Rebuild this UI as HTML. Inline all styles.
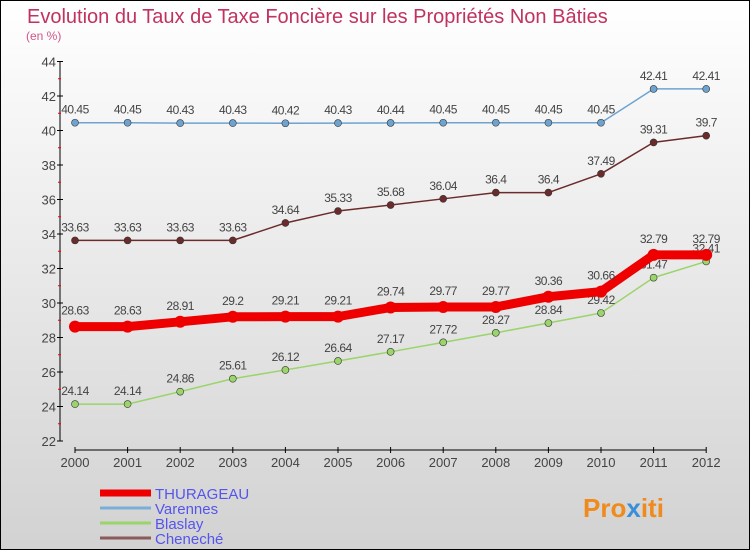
<!DOCTYPE html>
<html><head><meta charset="utf-8"><style>
body{margin:0;width:750px;height:550px;overflow:hidden;font-family:"Liberation Sans",sans-serif}
#wrap{position:absolute;left:0;top:0;width:748px;height:548px;border:1px solid #000;background:linear-gradient(#ffffff,#d2d2d2)}
</style></head><body>
<div id="wrap">
<svg id="chart" width="750" height="550" style="position:absolute;left:-1px;top:-1px">
<text x="27" y="23" font-size="20" fill="#c0335f">Evolution du Taux de Taxe Foncière sur les Propriétés Non Bâties</text>
<text x="26" y="40" font-size="12" fill="#d0558a">(en %)</text>
<g id="axes"></g><g id="series"></g><g id="legend"></g>
<text x="583" y="517" font-size="26" font-weight="bold" fill="#f08a1c">Pro<tspan fill="#3a8fd8">x</tspan>iti</text>
</svg></div>
<script>
const years=[2000,2001,2002,2003,2004,2005,2006,2007,2008,2009,2010,2011,2012];
const yTicks=[22,24,26,28,30,32,34,36,38,40,42,44];
const thurageau=[28.63,28.63,28.91,29.2,29.21,29.21,29.74,29.77,29.77,30.36,30.66,32.79,32.79];
const varennes=[40.45,40.45,40.43,40.43,40.42,40.43,40.44,40.45,40.45,40.45,40.45,42.41,42.41];
const blaslay=[24.14,24.14,24.86,25.61,26.12,26.64,27.17,27.72,28.27,28.84,29.42,31.47,32.41];
const cheneche=[33.63,33.63,33.63,33.63,34.64,35.33,35.68,36.04,36.4,36.4,37.49,39.31,39.7];
const seriesNames=["THURAGEAU","Varennes","Blaslay","Cheneché"];
const NS="http://www.w3.org/2000/svg";
const X=i=>75+i*52.6, Y=v=>441-(v-22)*17.25;
function mk(t,a,p){const e=document.createElementNS(NS,t);for(const k in a)e.setAttribute(k,a[k]);p.appendChild(e);return e;}
const ax=document.getElementById('axes');
let l=mk('line',{x1:60,y1:Y(44),x2:60,y2:Y(22),stroke:'#000'},ax);


l=mk('line',{x1:75,y1:450,x2:X(12),y2:450,stroke:'#000'},ax);


yTicks.forEach(v=>{mk('line',{x1:57,y1:Y(v),x2:63,y2:Y(v),stroke:'#000'},ax);
 if(v<44)mk('line',{x1:58,y1:Y(v+1),x2:61,y2:Y(v+1),stroke:'#e00'},ax);
 const t=mk('text',{x:56,y:Y(v)+5,'font-size':13,fill:'#444','text-anchor':'end'},ax);t.textContent=v;
 
 });
years.forEach((y,i)=>{mk('line',{x1:X(i),y1:447,x2:X(i),y2:453,stroke:'#000'},ax);
 const t=mk('text',{x:X(i),y:467,'font-size':13,fill:'#444','text-anchor':'middle'},ax);t.textContent=y;
 
 });
const sg=document.getElementById('series');
function draw(data,color,w,dot,name,dy){
 const g=mk('g',{},sg);
 
 
 mk('polyline',{points:data.map((v,i)=>X(i)+','+Y(v)).join(' '),fill:'none',stroke:color,'stroke-width':w,'stroke-linejoin':'round'},g);
 data.forEach((v,i)=>{const c=mk('circle',{cx:X(i),cy:Y(v),r:dot,fill:color,stroke:'#333','stroke-width':w>5?0:0.6},g);
  
  
  const t=mk('text',{x:X(i),y:Y(v)+dy,'font-size':12,fill:'#444','text-anchor':'middle','letter-spacing':'-0.5'},g);t.textContent=v;});
}
draw(varennes,'#6ea3d0',1.5,3.5,'varennes',-9);
draw(cheneche,'#6b2b2b',1.5,3.5,'cheneche',-9);
draw(blaslay,'#9ad46a',1.5,3.5,'blaslay',-9);
draw(thurageau,'#ee0000',9,6,'thurageau',-12);
const lg=document.getElementById('legend');
const lc=['#ee0000','#7aaed6','#9ad46a','#8b5a5a'];
seriesNames.forEach((n,i)=>{const y=493+i*15;
 mk('line',{x1:100,y1:y,x2:151,y2:y,stroke:lc[i],'stroke-width':i==0?7:3},lg);
 const t=mk('text',{x:155,y:y+6,'font-size':15,fill:'#5555ee'},lg);t.textContent=n;
 
 });
</script></body></html>
